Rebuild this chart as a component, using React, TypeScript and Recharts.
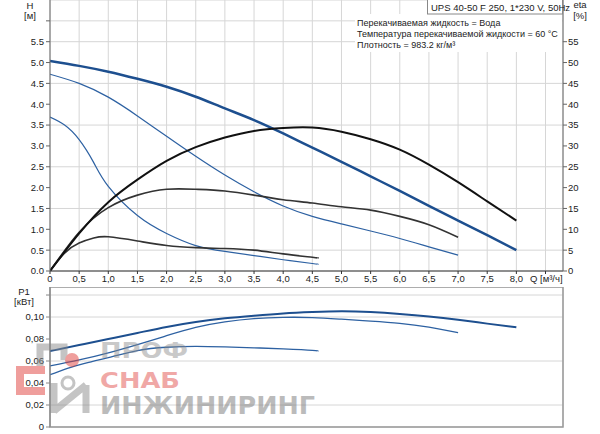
import { ComposedChart, Line, XAxis, YAxis, CartesianGrid, ReferenceArea } from "recharts";

// расход, м³/ч
const qFull = [0, 0.5, 1, 1.5, 2, 2.5, 3, 3.5, 4, 4.5, 5, 5.5, 6, 6.5, 7, 7.5, 8];
const qMid = [0, 0.5, 1, 1.5, 2, 2.5, 3, 3.5, 4, 4.5, 5, 5.5, 6, 6.5, 7];
const qLow = [0, 0.25, 0.5, 0.75, 1, 1.5, 2, 2.5, 3, 3.5, 4, 4.5, 4.6];

// напор H, м (скорости 3, 2, 1)
const h3 = [5.04, 4.92, 4.78, 4.61, 4.42, 4.18, 3.9, 3.62, 3.3, 2.96, 2.62, 2.27, 1.92, 1.56, 1.21, 0.86, 0.5];
const h2 = [4.72, 4.5, 4.17, 3.72, 3.23, 2.75, 2.3, 1.9, 1.56, 1.31, 1.13, 0.96, 0.78, 0.58, 0.38];
const h1 = [3.69, 3.5, 3.15, 2.6, 2.03, 1.33, 0.9, 0.61, 0.47, 0.37, 0.27, 0.18, 0.16];

// КПД eta, %
const eta3 = [0, 9, 16.5, 21.9, 26.4, 29.7, 32, 33.6, 34.3, 34.4, 33.4, 31.6, 29.1, 25.5, 21.3, 16.7, 12.1];
const eta2 = [0, 9.3, 15.2, 18.2, 19.6, 19.6, 19.2, 18.2, 17.1, 16.3, 15.4, 14.6, 13.1, 11.1, 8.1];
const eta1 = [0, 4.3, 6.7, 7.9, 8.2, 7.2, 6.1, 5.6, 5.4, 5.0, 4.1, 3.3, 3.1];

// мощность P1, кВт
const p3 = [0.069, 0.0745, 0.08, 0.0855, 0.091, 0.0955, 0.0988, 0.1012, 0.1032, 0.1045, 0.1052, 0.1045, 0.1028, 0.1005, 0.0975, 0.094, 0.0906];
const p2 = [0.0555, 0.061, 0.0675, 0.075, 0.083, 0.0905, 0.0955, 0.0985, 0.0997, 0.0995, 0.098, 0.0963, 0.0943, 0.0908, 0.0857];
const p1 = [0.0475, 0.0525, 0.0565, 0.06, 0.063, 0.0695, 0.0725, 0.0733, 0.0728, 0.072, 0.071, 0.0697, 0.0688];

const xTicks = [0, 0.5, 1, 1.5, 2, 2.5, 3, 3.5, 4, 4.5, 5, 5.5, 6, 6.5, 7, 7.5, 8, 8.5];
const hTicks = [0, 0.5, 1, 1.5, 2, 2.5, 3, 3.5, 4, 4.5, 5, 5.5, 6];
const etaTicks = [0, 5, 10, 15, 20, 25, 30, 35, 40, 45, 50, 55];
const pTicks = [0, 0.02, 0.04, 0.06, 0.08, 0.1, 0.12];

const infoLines = [
  "Перекачиваемая жидкость = Вода",
  "Температура перекачиваемой жидкости = 60 °C",
  "Плотность = 983.2 кг/м³",
];

const zip = (q: number[], v: number[]) => q.map((x, i) => ({ q: x, v: v[i] }));

const FONT = "'Liberation Sans', Arial, sans-serif";
const tickStyle = { fontSize: 9.5, fill: "#222", fontFamily: FONT };
const BLUE = "#1d4f8f";
const BLUE2 = "#2d61a2";

export default function App() {
  return (
    <div style={{ position: "absolute", left: 0, top: 0, width: 600, height: 434, background: "#fff" }}>
      <div style={{ position: "absolute", left: 0, top: 0 }}>
        <ComposedChart width={600} height={286} margin={{ top: 0, right: 0, bottom: 0, left: 0 }}>
          <CartesianGrid stroke="#d6d6d6" yAxisId="h" />
          <XAxis
            dataKey="q"
            type="number"
            domain={[0, 8.8]}
            ticks={xTicks}
            height={15}
            tickSize={3}
            tickMargin={1}
            stroke="#333"
            tick={tickStyle}
            allowDataOverflow
            tickFormatter={(v: number) => (v === 0 ? "0" : v > 8.2 ? "" : v.toFixed(1).replace(".", ","))}
          />
          <YAxis
            yAxisId="h"
            width={50}
            domain={[0, 6.5]}
            ticks={hTicks}
            tickSize={4}
            tickMargin={2}
            stroke="#666"
            tick={tickStyle}
            allowDataOverflow
            tickFormatter={(v: number) => (v > 5.8 ? "" : v.toFixed(1))}
          />
          <YAxis
            yAxisId="eta"
            orientation="right"
            width={37}
            domain={[0, 65]}
            ticks={etaTicks}
            tickSize={4}
            tickMargin={1}
            stroke="#666"
            tick={{ ...tickStyle, textAnchor: "start" }}
            allowDataOverflow
          />
          <Line yAxisId="h" data={zip(qLow, h1)} dataKey="v" type="natural" stroke={BLUE2} strokeWidth={1.2} dot={false} isAnimationActive={false} />
          <Line yAxisId="h" data={zip(qMid, h2)} dataKey="v" type="natural" stroke={BLUE2} strokeWidth={1.2} dot={false} isAnimationActive={false} />
          <Line yAxisId="h" data={zip(qFull, h3)} dataKey="v" type="natural" stroke={BLUE} strokeWidth={2.5} dot={false} isAnimationActive={false} />
          <Line yAxisId="eta" data={zip(qLow, eta1)} dataKey="v" type="natural" stroke="#333" strokeWidth={1.6} dot={false} isAnimationActive={false} />
          <Line yAxisId="eta" data={zip(qMid, eta2)} dataKey="v" type="natural" stroke="#333" strokeWidth={1.6} dot={false} isAnimationActive={false} />
          <Line yAxisId="eta" data={zip(qFull, eta3)} dataKey="v" type="natural" stroke="#111" strokeWidth={2} dot={false} isAnimationActive={false} />
        </ComposedChart>
      </div>

      <div style={{ position: "absolute", left: 0, top: 287 }}>
        <ComposedChart width={600} height={147} margin={{ top: 0, right: 37, bottom: 7, left: 0 }}>
          <CartesianGrid stroke="#d6d6d6" />
          <XAxis dataKey="q" type="number" domain={[0, 8.8]} ticks={xTicks} height={0} tick={false} tickLine={false} axisLine={false} allowDataOverflow />
          <YAxis
            width={50}
            domain={[0, 0.1273]}
            ticks={pTicks}
            tickSize={4}
            tickMargin={2}
            stroke="#888"
            tick={tickStyle}
            allowDataOverflow
            tickFormatter={(v: number) => (v === 0 ? "0" : v > 0.11 ? "" : v.toFixed(2).replace(".", ","))}
          />
          <ReferenceArea x1={0} x2={8.8} y1={0} y2={0.1273} fill="none" stroke="#999" strokeWidth={1.5} ifOverflow="visible" />
          <Line data={zip(qLow, p1)} dataKey="v" type="natural" stroke={BLUE2} strokeWidth={1.3} dot={false} isAnimationActive={false} />
          <Line data={zip(qMid, p2)} dataKey="v" type="natural" stroke={BLUE2} strokeWidth={1.3} dot={false} isAnimationActive={false} />
          <Line data={zip(qFull, p3)} dataKey="v" type="natural" stroke={BLUE} strokeWidth={2} dot={false} isAnimationActive={false} />
        </ComposedChart>
      </div>

      <svg width={600} height={434} style={{ position: "absolute", left: 0, top: 0, pointerEvents: "none" }} fontFamily={FONT}>
        {/* подписи осей */}
        <text x={30} y={8.5} fontSize={9.5} textAnchor="middle" fill="#222">H</text>
        <text x={30} y={18.5} fontSize={9.5} textAnchor="middle" fill="#222">[м]</text>
        <text x={580} y={8} fontSize={9.5} textAnchor="middle" fill="#222">eta</text>
        <text x={580} y={19} fontSize={9.5} textAnchor="middle" fill="#222">[%]</text>
        <text x={24} y={295} fontSize={9.5} textAnchor="middle" fill="#222">P1</text>
        <text x={24} y={305} fontSize={9.5} textAnchor="middle" fill="#222">[кВт]</text>
        <text x={530} y={281.5} fontSize={9.5} fill="#222">Q [м³/ч]</text>

        {/* заголовок и условия */}
        <rect x={355} y={14} width={207} height={38} fill="#fff" />
        <rect x={427.5} y={-1} width={135} height={15} fill="#fff" stroke="#888" />
        <text x={431} y={10.5} fontSize={9.5} fill="#222">UPS 40-50 F 250, 1*230 V, 50Hz</text>
        {infoLines.map((t, i) => (
          <text key={i} x={357} y={26 + i * 11} fontSize={9} fill="#222">{t}</text>
        ))}

        {/* водяной знак */}
        <g opacity={0.5}>
          <path d="M40 367 V347 H64 V360" fill="none" stroke="#8a8a8a" strokeWidth={7} />
          <path d="M45 370 H20 V391 H45" fill="none" stroke="#e0403c" strokeWidth={8} />
          <circle cx={72} cy={360} r={7} fill="#e0403c" />
          <path d="M54 413 V383 M54 411 L86 385 M86 385 V413" fill="none" stroke="#8a8a8a" strokeWidth={7} />
          <circle cx={68} cy={383} r={6} fill="none" stroke="#8a8a8a" strokeWidth={3} />
        </g>
        <text x={100} y={358} fontSize={21} fontWeight="bold" fontFamily="'DejaVu Sans', sans-serif" textLength={88} lengthAdjust="spacingAndGlyphs" fill="#8a8a8a" opacity={0.45}>ПРОФ</text>
        <text x={100} y={388} fontSize={21} fontWeight="bold" fontFamily="'DejaVu Sans', sans-serif" textLength={80} lengthAdjust="spacingAndGlyphs" fill="#e0403c" opacity={0.45}>СНАБ</text>
        <text x={100} y={414} fontSize={25} fontWeight="bold" fontFamily="'DejaVu Sans', sans-serif" textLength={215} lengthAdjust="spacingAndGlyphs" fill="#7a7a7a" opacity={0.5}>ИНЖИНИРИНГ</text>
      </svg>
    </div>
  );
}
